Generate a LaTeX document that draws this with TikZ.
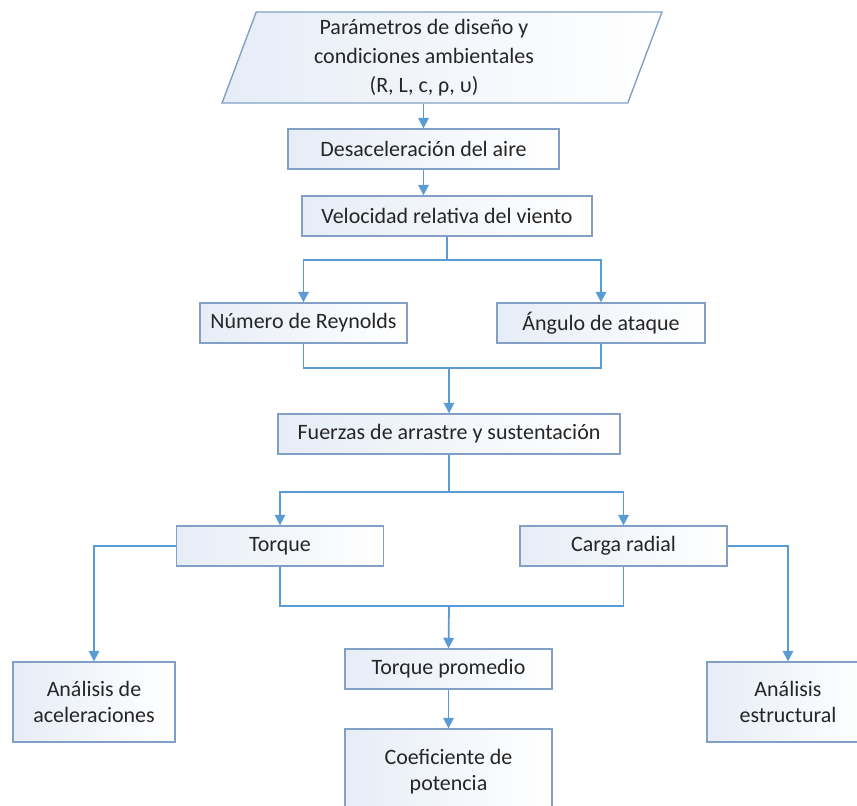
\documentclass[tikz,border=0pt]{standalone}
\usepackage{fontspec}
\setmainfont{Carlito}
\usepackage{xcolor}
\usetikzlibrary{arrows.meta,shapes.geometric}

\definecolor{flowblue}{RGB}{91,155,213}
\definecolor{boxedge}{RGB}{130,160,198}
\definecolor{boxleft}{RGB}{230,237,247}

\newcommand{\paramshift}{\hspace*{-0.72cm}}

\tikzset{
  stepbox/.style={draw=boxedge, line width=0.8pt, left color=boxleft, right color=white,
    minimum height=0.8cm, inner sep=0pt, align=center, text=black!85,
    font=\fontsize{12.5}{15}\selectfont},
  flow/.style={draw=flowblue, line width=1pt},
  flowarrow/.style={flow, -{Triangle[width=6pt,length=6pt]}}
}

\begin{document}
\begin{tikzpicture}[x=0.02cm, y=-0.02cm]
        \useasboundingbox (0,0) rectangle (857,805);
        \clip (0,0) rectangle (857,805);
        % input parameters
        \node[stepbox, trapezium, trapezium left angle=66, trapezium right angle=114,
              trapezium stretches body=true, minimum width=8.8cm, minimum height=1.82cm,
              font=\fontsize{12.5}{16.5}\selectfont] (params) at (442,57.5)
              {\paramshift Parámetros de diseño y\\\paramshift condiciones ambientales\\\paramshift (R, L, c, ρ, υ)};
        \node[stepbox, minimum width=5.42cm] (desac) at (423.5,149) {Desaceleración del aire};
        \node[stepbox, minimum width=5.8cm] (veloc) at (447,216) {Velocidad relativa del viento};
        \node[stepbox, minimum width=4.14cm] (reyn) at (303.5,323) {Número de Reynolds};
        \node[stepbox, minimum width=4.16cm] (angulo) at (601,323) {Ángulo de ataque};
        \node[stepbox, minimum width=6.84cm] (fuerzas) at (449,434) {Fuerzas de arrastre y sustentación};
        \node[stepbox, minimum width=4.14cm] (torque) at (280,546) {Torque};
        \node[stepbox, minimum width=4.14cm] (carga) at (623.5,546) {Carga radial};
        \node[stepbox, minimum width=4.14cm] (prom) at (448.5,669) {Torque promedio};
        \node[stepbox, minimum width=4.14cm, minimum height=1.7cm] (coef) at (448.5,771.5) {Coeficiente de\\potencia};
        \node[stepbox, minimum width=3.24cm, minimum height=1.6cm] (acel) at (94,702) {Análisis de\\aceleraciones};
        \node[stepbox, minimum width=3.24cm, minimum height=1.6cm] (estr) at (788,702) {Análisis\\estructural};
        % junctions
        \coordinate (s1) at (447,260);
        \coordinate (m1) at (449,368);
        \coordinate (s2) at (449,492);
        \coordinate (m2) at (449,606);
        % connectors
        \draw[flowarrow] (params.south -| desac.north) -- (desac.north);
        \draw[flowarrow] (desac.south) -- (desac.south |- veloc.north);
        \draw[flow] (veloc.south) -- (s1);
        \draw[flowarrow] (s1) -| (reyn.north);
        \draw[flowarrow] (s1) -| (angulo.north);
        \draw[flow] (reyn.south) |- (m1) -| (angulo.south);
        \draw[flowarrow] (m1) -- (fuerzas.north);
        \draw[flow] (fuerzas.south) -- (s2);
        \draw[flowarrow] (s2) -| (torque.north);
        \draw[flowarrow] (s2) -| (carga.north);
        \draw[flow] (torque.south) |- (m2) -| (carga.south);
        \draw[flowarrow] (m2) -- (prom.north);
        \draw[flowarrow] (prom.south) -- (coef.north);
        \draw[flowarrow] (torque.west) -| (acel.north);
        \draw[flowarrow] (carga.east) -| (estr.north);
\end{tikzpicture}
\end{document}
